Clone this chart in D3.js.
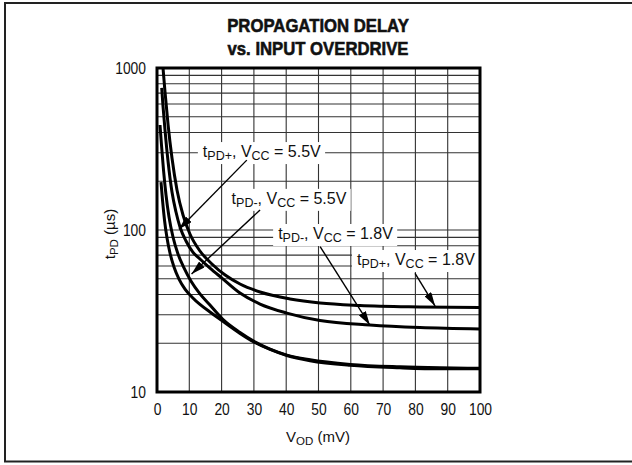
<!DOCTYPE html>
<html>
<head>
<meta charset="utf-8">
<script src="https://cdn.jsdelivr.net/npm/d3@7/dist/d3.min.js"></script>
<style>
  html, body { margin: 0; padding: 0; background: #fff; }
  svg { display: block; }
  text { font-family: "Liberation Sans", Arial, sans-serif; fill: #111; }
</style>
</head>
<body>
<svg id="chart" width="632" height="465"></svg>
<script>
// Propagation delay (µs) against input overdrive (mV)
const xTicks = [0, 10, 20, 30, 40, 50, 60, 70, 80, 90, 100];
const yTicks = [10, 100, 1000];
const titleLines = ["PROPAGATION DELAY", "vs. INPUT OVERDRIVE"];

// each series: [overdrive mV, delay µs]
const tpdPlus18 = [[1.86, 1000], [2.48, 711], [3.41, 451], [4.64, 278], [6.19, 176.6], [8.05, 123.8], [10.2, 94.5], [13.3, 74.2], [17.0, 61.7], [21.1, 52.7], [25.7, 46.4], [31.9, 41.4], [41.2, 37.5], [50.5, 35.4], [62.8, 34.2], [81.4, 33.5], [100, 33.2]];
const tpdMinus18 = [[1.46, 753], [1.86, 582], [2.48, 414], [3.41, 266.7], [4.64, 171.6], [5.88, 129.1], [7.12, 104.3], [8.98, 85.5], [11.1, 73.1], [13.3, 66.2], [16.4, 58.2], [20.1, 50.5], [25.7, 40.8], [31.9, 34.9], [40.2, 30.7], [50.5, 27.6], [65.9, 25.9], [81.4, 25.0], [100, 24.5]];
const tpdPlus55 = [[0.93, 444.7], [1.39, 334.7], [2.01, 234.7], [2.79, 164.4], [3.72, 120.3], [4.95, 90.5], [6.5, 71.1], [8.36, 58.3], [10.5, 48.4], [13.3, 40.3], [16.4, 34.4], [20.3, 28.2], [25.7, 23.3], [30.3, 20.4], [35.0, 18.4], [40.2, 16.9], [47.4, 15.8], [59.8, 14.8], [75.2, 14.3], [87.6, 14.1], [100, 14.0]];
const tpdMinus55 = [[1.24, 197.8], [1.7, 153.2], [2.32, 115.3], [3.1, 89.2], [4.02, 72.1], [5.26, 59.1], [6.81, 49.8], [8.67, 43.2], [10.8, 38.6], [13.3, 34.7], [16.4, 31.2], [20.3, 27.4], [25.7, 23.0], [30.3, 20.2], [35.0, 18.3], [40.2, 16.8], [47.4, 15.6], [59.8, 14.6], [75.2, 14.1], [87.6, 13.9], [100, 13.9]];

// label text start and arrow (from -> to), all in data units
const labelSign = ["+", "-", "-", "+"];
const labelVcc = ["5.5V", "5.5V", "1.8V", "1.8V"];
const labelAt = [[14.2, 282], [23.1, 145], [37.5, 88], [61.9, 60.8]];
const arrowFrom = [[27.8, 270], [31.9, 133], [50.5, 79], [79.9, 54]];
const arrowTo = [[6.8, 101], [10.7, 53.5], [65.9, 25.9], [86.1, 33.9]];

const svg = d3.select("#chart");
const plotL = 157, plotR = 480, plotT = 68, plotB = 392;

const x = d3.scaleLinear().domain([0, 100]).range([plotL, plotR]);
const y = d3.scaleLog().domain([10, 1000]).range([plotB, plotT]);

// outer frame
svg.append("rect")
  .attr("x", 5).attr("y", 3).attr("width", 640).attr("height", 458.5)
  .attr("fill", "none").attr("stroke", "#222").attr("stroke-width", 2);

// title, condensed heavy lettering
svg.append("g").selectAll("text").data(titleLines).join("text")
  .attr("transform", (d, i) => `translate(318,${32 + i * 23}) scale(0.88,1)`)
  .attr("text-anchor", "middle")
  .attr("font-weight", "bold").attr("font-size", 19)
  .attr("stroke", "#111").attr("stroke-width", 0.6)
  .text(d => d);

// grid
const grid = svg.append("g").attr("stroke", "#333").attr("stroke-width", 1.1);
grid.selectAll("line.v").data(d3.range(10, 100, 10)).join("line")
  .attr("x1", d => x(d)).attr("x2", d => x(d))
  .attr("y1", plotT).attr("y2", plotB);
const minor = [];
[10, 100].forEach(dec => { for (let k = 2; k <= 9; k++) minor.push(dec * k); });
minor.push(100);
grid.selectAll("line.h").data(minor).join("line")
  .attr("x1", plotL).attr("x2", plotR)
  .attr("y1", d => y(d)).attr("y2", d => y(d));

// tick labels via d3 axes (tick marks hidden, only text)
const xAxis = d3.axisBottom(x).tickValues(xTicks).tickSize(0).tickPadding(0).tickFormat(d3.format("d"));
const gx = svg.append("g").attr("transform", `translate(0,${plotB + 11})`).call(xAxis);
gx.select(".domain").remove();
gx.selectAll("text").attr("font-size", 16.5).attr("fill", "#111").attr("dy", "0.71em")
  .attr("transform", "scale(0.84,1)")
  .style("font-family", "\"Liberation Sans\", Arial, sans-serif");

const yAxis = d3.axisLeft(y).tickValues(yTicks).tickSize(0).tickPadding(0).tickFormat(d3.format("d"));
const gy = svg.append("g").attr("transform", `translate(${plotL - 11},0)`).call(yAxis);
gy.select(".domain").remove();
gy.selectAll("text").attr("font-size", 16.5).attr("fill", "#111")
  .attr("transform", "scale(0.84,1)")
  .style("font-family", "\"Liberation Sans\", Arial, sans-serif");

// axis titles
const xt = svg.append("text").attr("x", 318).attr("y", 442).attr("text-anchor", "middle").attr("font-size", 15);
xt.append("tspan").text("V");
xt.append("tspan").attr("font-size", 11.5).attr("dy", 3).text("OD");
xt.append("tspan").attr("dy", -3).text(" (mV)");

const yt = svg.append("text").attr("transform", "translate(115,234) rotate(-90)").attr("text-anchor", "middle").attr("font-size", 15);
yt.append("tspan").text("t");
yt.append("tspan").attr("font-size", 11.5).attr("dy", 3).text("PD");
yt.append("tspan").attr("dy", -3).text(" (µs)");

// curves
svg.append("clipPath").attr("id", "plotClip").append("rect")
  .attr("x", plotL).attr("y", plotT).attr("width", plotR - plotL).attr("height", plotB - plotT);
const line = d3.line().x(d => x(d[0])).y(d => y(d[1])).curve(d3.curveMonotoneX);
svg.append("g").attr("clip-path", "url(#plotClip)")
  .selectAll("path").data([tpdPlus18, tpdMinus18, tpdPlus55, tpdMinus55]).join("path")
  .attr("d", line).attr("fill", "none").attr("stroke", "#000").attr("stroke-width", 3)
  .attr("stroke-linejoin", "round");

// curve labels with white backing
const labels = svg.append("g");
labelAt.forEach((pos, i) => {
  const g = labels.append("g");
  const t = g.append("text").attr("x", x(pos[0])).attr("y", y(pos[1])).attr("font-size", 16);
  t.append("tspan").text("t");
  t.append("tspan").attr("font-size", 12.5).attr("dy", 3).text("PD" + labelSign[i]);
  t.append("tspan").attr("dy", -3).text(", V");
  t.append("tspan").attr("font-size", 12.5).attr("dy", 3).text("CC");
  t.append("tspan").attr("dy", -3).text(" = " + labelVcc[i]);
  const bb = t.node().getBBox();
  g.insert("rect", "text")
    .attr("x", bb.x - 5).attr("y", bb.y - 1).attr("width", bb.width + 9).attr("height", bb.height + 2)
    .attr("fill", "#fff");
});

// arrows
const defs = svg.append("defs");
defs.append("marker").attr("id", "head").attr("viewBox", "0 0 14 8")
  .attr("refX", 14).attr("refY", 4).attr("markerWidth", 14).attr("markerHeight", 8)
  .attr("markerUnits", "userSpaceOnUse").attr("orient", "auto")
  .append("path").attr("d", "M0,0 L14,4 L0,8 Z").attr("fill", "#000");
svg.append("g").selectAll("line").data(d3.range(arrowFrom.length)).join("line")
  .attr("x1", i => x(arrowFrom[i][0])).attr("y1", i => y(arrowFrom[i][1]))
  .attr("x2", i => x(arrowTo[i][0])).attr("y2", i => y(arrowTo[i][1]))
  .attr("stroke", "#000").attr("stroke-width", 1.4).attr("marker-end", "url(#head)");

// plot border
svg.append("rect").attr("x", plotL).attr("y", plotT).attr("width", plotR - plotL).attr("height", plotB - plotT)
  .attr("fill", "none").attr("stroke", "#000").attr("stroke-width", 3);
</script>
</body>
</html>
